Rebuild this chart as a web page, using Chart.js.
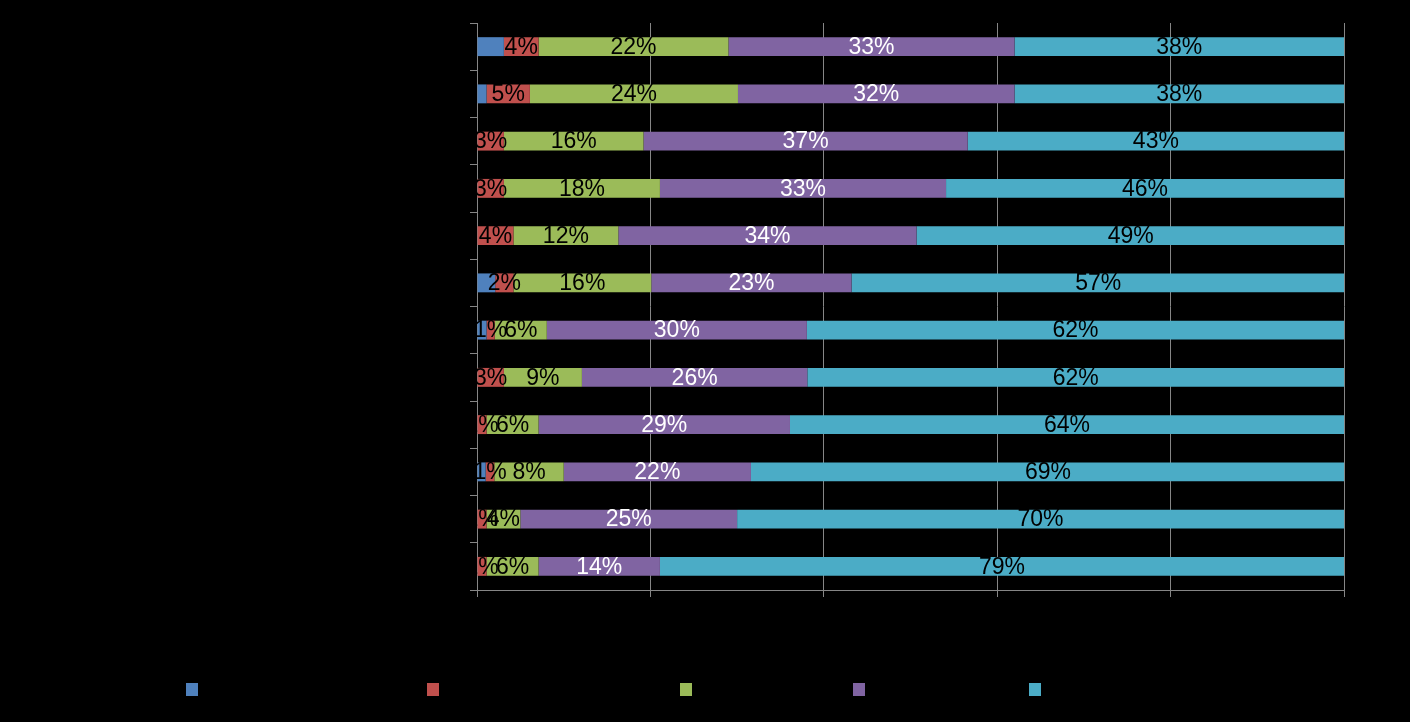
<!DOCTYPE html>
<html>
<head>
<meta charset="utf-8">
<script src="https://cdn.jsdelivr.net/npm/chart.js@4/dist/chart.umd.min.js"></script>
<style>
    html, body { margin: 0; padding: 0; background: #000; }
    canvas { display: block; }
</style>
</head>
<body>
<canvas id="chart" width="1410" height="722"></canvas>
<script>
// Row names are drawn black on black in the original, so they are not readable
const categories = ['1', '2', '3', '4', '5', '6', '7', '8', '9', '10', '11', '12'];
const seriesNames = ['Series 1', 'Series 2', 'Series 3', 'Series 4', 'Series 5'];
const seriesColors = ['#4F81BD', '#C0504D', '#9BBB59', '#8064A2', '#4BACC6'];

// percent shares, top row first
const series1 = [3.1, 1.1, 0, 0, 0, 2.1, 1.1, 0, 0, 1.0, 0, 0];
const series2 = [4.0, 5.0, 3.1, 3.1, 4.2, 2.1, 0.95, 3.1, 1.1, 1.0, 1.1, 1.1];
const series3 = [21.9, 24.0, 16.1, 18.0, 12.1, 15.9, 6.0, 9.0, 6.0, 8.0, 3.9, 6.0];
const series4 = [33.0, 31.9, 37.4, 33.0, 34.4, 23.1, 30.0, 26.0, 29.0, 21.6, 25.0, 14.0];
const series5 = [38.0, 38.0, 43.4, 45.9, 49.4, 56.9, 61.95, 61.9, 63.9, 68.5, 70.0, 78.9];

const xTicks = [0, 20, 40, 60, 80, 100];

// label colour per series, null = no labels for that series
const labelColors = [null, '#000', '#000', '#fff', '#000'];
// legend swatch left edges
const legendBoxX = [186, 427, 680, 853, 1029];

const allSeries = [series1, series2, series3, series4, series5];

const datasets = allSeries.map((data, i) => ({
    label: seriesNames[i],
    data: data,
    backgroundColor: seriesColors[i],
    borderWidth: 0,
    barPercentage: 0.4,
    categoryPercentage: 1.0
}));

// draw value labels after every bar so they overlap like the original
const barLabels = {
    id: 'barLabels',
    afterDatasetsDraw(chart) {
        const ctx = chart.ctx;
        ctx.save();
        ctx.font = '23px "Liberation Sans", Arial, sans-serif';
        ctx.textAlign = 'center';
        ctx.textBaseline = 'middle';
        chart.data.datasets.forEach((ds, i) => {
            if (!labelColors[i]) return;
            const meta = chart.getDatasetMeta(i);
            meta.data.forEach((bar, j) => {
                const v = ds.data[j];
                if (!v) return;
                const { x, y, base } = bar.getProps(['x', 'y', 'base'], true);
                ctx.fillStyle = labelColors[i];
                ctx.fillText(Math.round(v) + '%', (x + base) / 2, y + 1);
            });
        });
        ctx.restore();
    }
};

// legend swatches only; legend text is black on black in the original
const swatchLegend = {
    id: 'swatchLegend',
    afterDraw(chart) {
        const ctx = chart.ctx;
        ctx.save();
        chart.data.datasets.forEach((ds, i) => {
            ctx.fillStyle = ds.backgroundColor;
            ctx.fillRect(legendBoxX[i], 683, 12, 13);
        });
        ctx.restore();
    }
};

const ctx = document.getElementById('chart').getContext('2d');
new Chart(ctx, {
    type: 'bar',
    data: { labels: categories, datasets: datasets },
    plugins: [barLabels, swatchLegend],
    options: {
        indexAxis: 'y',
        responsive: false,
        animation: false,
        layout: { padding: { left: 470, right: 66, top: 23, bottom: 125 } },
        plugins: {
            legend: { display: false },
            tooltip: { enabled: false }
        },
        scales: {
            x: {
                stacked: true,
                min: 0,
                max: 100,
                afterBuildTicks: axis => { axis.ticks = xTicks.map(v => ({ value: v })); },
                ticks: { display: false },
                grid: { color: '#868686', lineWidth: 1, tickLength: 7 },
                border: { color: '#868686' }
            },
            y: {
                stacked: true,
                ticks: { display: false },
                grid: { drawOnChartArea: false, offset: true, color: '#868686', tickLength: 7 },
                border: { color: '#868686' }
            }
        }
    }
});
</script>
</body>
</html>
